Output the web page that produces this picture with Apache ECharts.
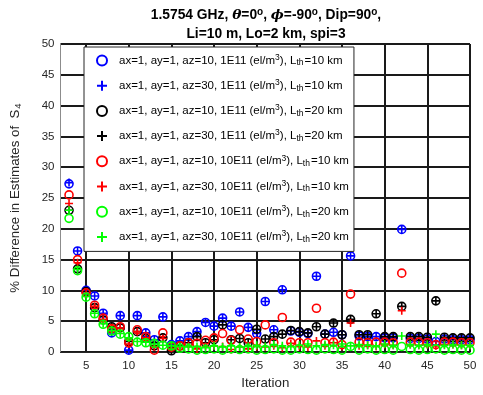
<!DOCTYPE html>
<html>
<head>
<meta charset="utf-8">
<title>S4 estimates</title>
<script src="https://cdn.jsdelivr.net/npm/echarts@6/dist/echarts.min.js"></script>
<style>
html, body { margin: 0; padding: 0; background: #fff; }
#main { width: 483px; height: 395px; }
</style>
</head>
<body>
<div id="main"></div>
<script>
// iterations shown on the x axis
var iterations = [3, 4, 5, 6, 7, 8, 9, 10, 11, 12, 13, 14, 15, 16, 17, 18, 19, 20, 21, 22, 23, 24, 25, 26,
    27, 28, 29, 30, 31, 32, 33, 34, 35, 36, 37, 38, 39, 40, 41, 42, 43, 44, 45, 46, 47, 48, 49, 50];
var xTicks = [5, 10, 15, 20, 25, 30, 35, 40, 45, 50];

// % difference, one array per legend entry
var blueAz10 = [27.3, 16.4, 10.0, 9.1, 6.3, 3.1, 5.9, 0.3, 5.9, 3.1, 2.0, 5.7, 1.2, 1.8, 2.5, 3.3, 4.8, 4.2, 5.5, 4.2, 6.5, 4.0, 3.0, 8.2,
    3.6, 10.1, 3.4, 3.2, 3.0, 12.3, 2.9, 3.2, 2.8, 15.6, 2.6, 2.5, 2.5, 2.3, 2.3, 19.9, 2.2, 2.2, 2.1, 1.7, 2.1, 2.0, 2.0, 2.0];
var blueAz30 = [27.5, 16.4, 10.0, 9.1, 6.3, 3.1, 5.9, 0.3, 5.9, 3.1, 2.0, 5.7, 1.2, 1.8, 2.5, 3.3, 4.8, 4.2, 5.5, 4.2, 6.5, 4.0, 3.0, 8.2,
    3.6, 10.1, 3.4, 3.2, 3.0, 12.3, 2.9, 3.2, 2.8, 15.6, 2.6, 2.5, 2.5, 2.3, 2.3, 19.9, 2.2, 2.2, 2.1, 1.7, 2.1, 2.0, 2.0, 2.0];
var blackAz10 = [23.0, 13.5, 9.8, 7.2, 5.2, 4.1, 3.9, 1.7, 3.3, 2.2, 1.0, 2.3, 0.2, 1.0, 1.5, 2.5, 1.5, 2.0, 4.4, 2.0, 2.2, 1.5, 3.7, 2.1,
    2.5, 2.9, 3.5, 3.3, 3.1, 4.1, 2.9, 4.7, 2.8, 5.3, 2.8, 2.8, 6.2, 2.5, 2.5, 7.4, 2.5, 2.5, 2.4, 8.3, 2.4, 2.3, 2.3, 2.3];
var blackAz30 = [23.0, 13.5, 9.8, 7.2, 5.2, 4.1, 3.9, 1.7, 3.3, 2.2, 1.0, 2.3, 0.2, 1.0, 1.5, 2.5, 1.5, 2.0, 4.4, 2.0, 2.2, 1.5, 3.7, 2.1,
    2.5, 2.9, 3.5, 3.3, 3.1, 4.1, 2.9, 4.7, 2.8, 5.3, 2.8, 2.8, 6.2, 2.5, 2.5, 7.4, 2.5, 2.5, 2.4, 8.3, 2.4, 2.3, 2.3, 2.3];
var redAz10 = [25.5, 15.0, 9.6, 7.6, 5.5, 3.8, 4.1, 1.5, 3.6, 2.5, 0.3, 3.1, 0.8, 1.0, 1.5, 1.4, 1.9, 2.3, 3.0, 1.9, 3.6, 2.1, 1.7, 4.4,
    1.5, 5.6, 1.6, 1.5, 1.5, 7.1, 1.5, 1.6, 1.2, 9.4, 1.6, 1.5, 1.6, 1.6, 1.5, 12.8, 1.6, 1.6, 1.5, 1.2, 1.6, 1.6, 1.5, 1.5];
var redAz30 = [24.1, 14.5, 9.5, 7.4, 5.3, 3.9, 3.9, 1.3, 3.3, 2.3, 0.8, 2.2, 0.6, 0.8, 1.0, 0.5, 0.9, 1.0, 0.9, 0.4, 0.8, 0.5, 0.9, 0.8,
    1.0, 0.7, 1.4, 0.9, 0.8, 1.8, 1.0, 1.5, 0.9, 4.7, 1.0, 1.1, 0.9, 1.2, 1.1, 6.7, 1.2, 1.1, 1.2, 1.0, 1.2, 1.2, 1.1, 1.1];
var greenAz10 = [21.7, 13.2, 8.9, 6.2, 4.5, 3.4, 2.9, 2.5, 1.6, 1.5, 1.4, 1.1, 1.0, 0.6, 0.5, 0.3, 0.4, 0.5, 0.3, 0.5, 0.4, 0.5, 0.3, 0.4,
    0.5, 0.3, 0.3, 0.5, 0.4, 0.3, 0.5, 0.4, 0.3, 0.9, 0.3, 0.5, 0.3, 0.4, 0.3, 0.9, 0.4, 0.3, 0.4, 0.5, 0.3, 0.4, 0.3, 0.3];
var greenAz30 = [23.0, 13.4, 9.0, 6.3, 4.6, 3.5, 3.0, 2.3, 1.7, 1.6, 1.3, 1.1, 1.0, 0.9, 0.8, 0.9, 0.7, 1.0, 0.8, 1.0, 0.8, 0.9, 1.1, 0.9,
    1.2, 1.0, 0.9, 1.1, 1.3, 1.0, 1.2, 1.1, 1.3, 1.0, 1.2, 1.1, 1.0, 1.3, 1.1, 2.6, 1.2, 1.1, 1.2, 2.9, 1.1, 1.2, 1.1, 1.1];

var seriesInfo = [
    { name: 'b10', values: blueAz10, color: '#0000ff', mark: 'o', az: 10, dens: '1E11', lth: 10 },
    { name: 'b30', values: blueAz30, color: '#0000ff', mark: '+', az: 30, dens: '1E11', lth: 10 },
    { name: 'k10', values: blackAz10, color: '#000000', mark: 'o', az: 10, dens: '1E11', lth: 20 },
    { name: 'k30', values: blackAz30, color: '#000000', mark: '+', az: 30, dens: '1E11', lth: 20 },
    { name: 'r10', values: redAz10, color: '#ff0000', mark: 'o', az: 10, dens: '10E11', lth: 10 },
    { name: 'r30', values: redAz30, color: '#ff0000', mark: '+', az: 30, dens: '10E11', lth: 10 },
    { name: 'g10', values: greenAz10, color: '#00ff00', mark: 'o', az: 10, dens: '10E11', lth: 20 },
    { name: 'g30', values: greenAz30, color: '#00ff00', mark: '+', az: 30, dens: '10E11', lth: 20 }
];

var plusPath = 'path://M5,0L5,10M0,5L10,5';
var font = 'Liberation Sans, Arial, Helvetica, sans-serif';

var series = seriesInfo.map(function (s) {
    return {
        name: s.name,
        type: 'scatter',
        symbol: s.mark === 'o' ? 'circle' : plusPath,
        symbolSize: 8,
        itemStyle: {
            color: 'rgba(0,0,0,0)',
            borderColor: s.color,
            borderWidth: 1.6,
            opacity: 1
        },
        emphasis: { disabled: true },
        data: iterations.map(function (it, i) { return [it, s.values[i]]; })
    };
});

var option = {
    backgroundColor: '#fff',
    animation: false,
    textStyle: { fontFamily: font },
    title: {
        left: 261,
        textAlign: 'center',
        top: 1,
        text: '{b|1.5754 GHz, }{i|θ}{b|=0}{s|o}{b|, }{i|ϕ}{b|=-90}{s|o}{b|, Dip=90}{s|o}{b|,}\n{b|Li=10 m, Lo=2 km, spi=3}',
        textStyle: {
            rich: {
                b: { fontSize: 13.8, fontWeight: 'bold', color: '#000', fontFamily: font, lineHeight: 19 },
                i: { fontSize: 13.8, fontStyle: 'italic', color: '#000', fontFamily: 'DejaVu Serif, serif', lineHeight: 19 },
                s: { fontSize: 10, fontWeight: 'bold', color: '#000', fontFamily: font, padding: [0, 0, 6, 0], lineHeight: 10 }
            }
        }
    },
    legend: {
        orient: 'vertical',
        left: 84,
        top: 47,
        padding: [6, 5, 7, 12],
        itemWidth: 10,
        itemHeight: 10,
        itemGap: 10.2,
        backgroundColor: '#fff',
        borderColor: '#262626',
        borderWidth: 1,
        borderRadius: 0,
        data: seriesInfo.map(function (s) { return s.name; }),
        formatter: function (name) {
            var s = seriesInfo.filter(function (d) { return d.name === name; })[0];
            return '{t|ax=1, ay=1, az=' + s.az + ', ' + s.dens + ' (el/m}{sup|3}{t|), L}{sub|th}{t|=' + s.lth + ' km}';
        },
        textStyle: {
            padding: [0, 0, 0, 7],
            rich: {
                t: { fontSize: 11.5, color: '#000', fontFamily: font, lineHeight: 15 },
                sup: { fontSize: 8.5, color: '#000', fontFamily: font, lineHeight: 8, padding: [0, 0, 6, 0] },
                sub: { fontSize: 8.5, color: '#000', fontFamily: font, lineHeight: 8, padding: [5, 1, 0, 0] }
            }
        }
    },
    grid: { left: 59, right: 13, top: 44, bottom: 43 },
    xAxis: {
        type: 'value',
        min: 2,
        max: 50,
        name: 'Iteration',
        nameLocation: 'middle',
        nameGap: 25,
        nameTextStyle: { fontSize: 13.3, color: '#262626', fontFamily: font },
        axisLine: { show: true, onZero: false, lineStyle: { color: '#262626', width: 1 } },
        axisTick: { show: false, customValues: xTicks },
        axisLabel: { customValues: xTicks, fontSize: 11.5, color: '#262626', margin: 8, fontFamily: font },
        splitLine: { show: true, lineStyle: { color: '#1a1a1a', width: 2 } }
    },
    yAxis: {
        type: 'value',
        min: 0,
        max: 50,
        interval: 5,
        name: '{t|% Difference in Estimates of  S}{sub|4}',
        nameLocation: 'middle',
        nameGap: 37,
        nameRotate: 90,
        nameTextStyle: {
            rich: {
                t: { fontSize: 13.3, color: '#262626', fontFamily: font, lineHeight: 16 },
                sub: { fontSize: 9.5, color: '#262626', fontFamily: font, lineHeight: 10, padding: [5, 0, 0, 1] }
            }
        },
        axisLine: { show: true, lineStyle: { color: '#8c8c8c', width: 1 } },
        axisTick: { show: false },
        axisLabel: { fontSize: 11.5, color: '#262626', margin: 6, fontFamily: font },
        splitLine: { show: true, lineStyle: { color: '#1a1a1a', width: 2 } }
    },
    series: series
};

var myChart = echarts.init(document.getElementById('main'));
myChart.setOption(option);
</script>
</body>
</html>
